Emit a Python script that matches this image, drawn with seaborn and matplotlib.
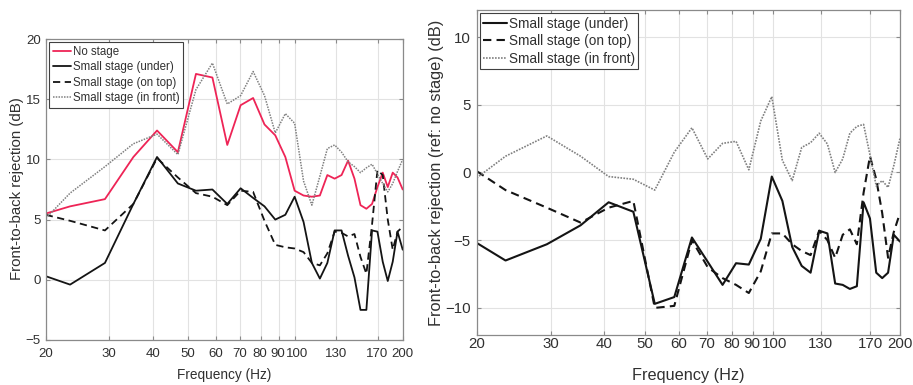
import matplotlib
matplotlib.use("Agg")
import matplotlib.pyplot as plt
import matplotlib.transforms as mtransforms
import seaborn as sns
import pandas as pd
from matplotlib.ticker import FixedLocator, FixedFormatter, NullLocator

# ---------------- data ----------------
freq = [20, 23.4, 29.3, 35.2, 41.0, 46.9, 52.7, 58.6, 64.5, 70.3, 76.2, 82.0,
        87.9, 93.8, 99.6, 105.5, 111.3, 117.2, 123.0, 128.9, 134.8, 140.6,
        146.5, 152.3, 158.2, 164.1, 169.9, 175.8, 181.6, 187.5, 193.4, 200]

left_no_stage = [5.5, 6.1, 6.7, 10.2, 12.4, 10.6, 17.1, 16.8, 11.2, 14.5, 15.1, 12.9,
                 12.0, 10.2, 7.4, 7.0, 6.9, 7.0, 8.7, 8.4, 8.7, 9.9,
                 8.4, 6.2, 5.9, 6.3, 7.7, 8.9, 7.7, 8.9, 8.5, 7.5]
left_under = [0.3, -0.4, 1.4, 6.3, 10.2, 8.0, 7.4, 7.5, 6.3, 7.6, 6.8, 6.1,
              5.0, 5.4, 6.9, 4.8, 1.4, 0.1, 1.4, 4.1, 4.1, 2.0,
              0.2, -2.5, -2.5, 4.1, 4.0, 1.5, -0.1, 1.5, 4.0, 2.5]
left_on_top = [5.4, 4.9, 4.1, 6.3, 10.1, 8.5, 7.2, 6.9, 6.2, 7.4, 7.3, 4.9,
               2.9, 2.7, 2.6, 2.3, 1.4, 1.2, 2.2, 4.0, 3.9, 3.6,
               3.8, 1.9, 0.5, 4.6, 9.1, 8.7, 5.0, 2.5, 4.0, 4.4]
left_in_front = [5.1, 7.2, 9.4, 11.3, 12.1, 10.4, 15.8, 18.0, 14.6, 15.3, 17.3, 15.3,
                 12.2, 13.8, 13.0, 8.2, 6.2, 8.6, 10.9, 11.2, 10.6, 9.8,
                 9.4, 8.9, 9.3, 9.6, 8.8, 8.0, 7.3, 8.0, 9.0, 10.0]

right_under = [-5.2, -6.5, -5.3, -3.9, -2.2, -2.9, -9.7, -9.2, -4.8, -6.6, -8.3, -6.7,
               -6.8, -4.9, -0.3, -2.1, -5.5, -6.9, -7.4, -4.3, -4.5, -8.2,
               -8.3, -8.6, -8.4, -2.2, -3.4, -7.4, -7.8, -7.4, -4.6, -5.1]
right_on_top = [0.1, -1.3, -2.6, -3.7, -2.6, -2.1, -10.0, -9.85, -5.0, -7.0, -7.8, -8.3,
                -8.9, -7.3, -4.5, -4.5, -5.3, -5.8, -6.1, -4.3, -5.0, -6.3,
                -4.6, -4.2, -5.3, -1.5, 1.2, -0.5, -3.0, -6.3, -4.4, -3.0]
right_in_front = [-0.4, 1.2, 2.7, 1.2, -0.3, -0.5, -1.3, 1.5, 3.3, 1.0, 2.15, 2.3,
                  0.2, 3.8, 5.6, 0.9, -0.6, 1.85, 2.2, 2.9, 2.1, 0.0,
                  1.0, 2.9, 3.4, 3.55, 1.3, -1.0, -0.6, -1.1, 0.5, 2.5]

x_ticks = [20, 30, 40, 50, 60, 70, 80, 90, 100, 130, 170, 200]
x_tick_labels = ["20", "30", "40", "50", "60", "70", "80", "90", "100", "130", "170", "200"]
left_yticks = [-5, 0, 5, 10, 15, 20]
right_yticks = [-10, -5, 0, 5, 10]

lab_none = "No stage"
lab_under = "Small stage (under)"
lab_top = "Small stage (on top)"
lab_front = "Small stage (in front)"

# ---------------- style ----------------
sns.set_theme(style="whitegrid")
plt.rcParams['font.family'] = ['Liberation Sans', 'DejaVu Sans']

RED = "#ee2456"
BLACK = "#141414"
GREY = "#808080"
EDGE = "#8a8a8a"
TXT = "#303030"

fig = plt.figure(figsize=(9.13, 3.85), dpi=100)
fig.patch.set_facecolor("white")
axL = fig.add_axes([0.0501, 0.1169, 0.391, 0.7818])
axR = fig.add_axes([0.5221, 0.1299, 0.4636, 0.8442])


def draw(ax, series):
    for vals, lab, col, ls, w in series:
        df = pd.DataFrame({"f": freq, "v": vals})
        sns.lineplot(data=df, x="f", y="v", ax=ax, color=col, linestyle=ls,
                     linewidth=w, label=lab, legend=False)
    ax.set_xscale("log")
    ax.set_xlim(20, 200)
    ax.xaxis.set_major_locator(FixedLocator(x_ticks))
    ax.xaxis.set_major_formatter(FixedFormatter(x_tick_labels))
    ax.xaxis.set_minor_locator(NullLocator())
    ax.grid(True, which="major", color="#e2e2e2", linewidth=0.8)
    for s in ax.spines.values():
        s.set_visible(True)
        s.set_color(EDGE)
        s.set_linewidth(0.9)
    ax.set_facecolor("white")


draw(axL, [
    (left_no_stage, lab_none, RED, "-", 1.3),
    (left_under, lab_under, BLACK, "-", 1.3),
    (left_on_top, lab_top, BLACK, (0, (4, 2.5)), 1.3),
    (left_in_front, lab_front, GREY, (0, (1, 0.8)), 1.1),
])
draw(axR, [
    (right_under, lab_under, BLACK, "-", 1.5),
    (right_on_top, lab_top, BLACK, (0, (4, 2.5)), 1.5),
    (right_in_front, lab_front, GREY, (0, (1, 0.8)), 1.2),
])

axL.set_ylim(-5, 20)
axL.yaxis.set_major_locator(FixedLocator(left_yticks))
axR.set_ylim(-12, 12)
axR.yaxis.set_major_locator(FixedLocator(right_yticks))

axL.tick_params(axis="both", which="major", direction="in", length=3, width=0.8,
                color=EDGE, labelcolor=TXT, labelsize=9.5,
                bottom=True, top=True, left=True, right=True)
axL.tick_params(axis="x", pad=6)
axL.tick_params(axis="y", pad=3.5)
axR.tick_params(axis="both", which="major", direction="in", length=3, width=0.8,
                color=EDGE, labelcolor=TXT, labelsize=10.8,
                bottom=True, top=True, left=True, right=True)
axR.tick_params(axis="x", pad=1.5)
axR.tick_params(axis="y", pad=4.5)


def nudge(ax, shifts_px):
    """Shift crowded tick labels sideways so they sit side by side (as in the reference)."""
    fig.canvas.draw()
    for tick, lab in zip(ax.xaxis.get_major_ticks(), x_tick_labels):
        if lab in shifts_px:
            off = mtransforms.ScaledTranslation(shifts_px[lab] / 100.0, 0, fig.dpi_scale_trans)
            tick.label1.set_transform(tick.label1.get_transform() + off)


nudge(axL, {"80": -1.0, "90": -1.2, "100": 1.8})
nudge(axR, {"90": -1.2, "100": 1.8})

axL.set_xlabel("Frequency (Hz)", fontsize=9.8, color=TXT)
axL.xaxis.set_label_coords(0.501, -0.116)
axL.xaxis.label.set_va("center")
axL.set_ylabel("Front-to-back rejection (dB)", fontsize=10.8, color=TXT)
axL.yaxis.set_label_coords(-0.081, 0.504)
axL.yaxis.label.set_va("center")

axR.set_xlabel("Frequency (Hz)", fontsize=11.7, color=TXT)
axR.xaxis.set_label_coords(0.501, -0.125)
axR.xaxis.label.set_va("center")
axR.set_ylabel("Front-to-back rejection (ref: no stage) (dB)", fontsize=11.8, color=TXT)
axR.yaxis.set_label_coords(-0.094, 0.5)
axR.yaxis.label.set_va("center")

legL = axL.legend(loc="upper left", fontsize=8.3, frameon=True, fancybox=False,
                  edgecolor="#404040", framealpha=1, borderaxespad=0.3,
                  handlelength=1.6, handletextpad=0.15, labelspacing=0.3,
                  borderpad=0.3)
legL.get_frame().set_linewidth(0.8)
for t in legL.get_texts():
    t.set_color(TXT)
legR = axR.legend(loc="upper left", fontsize=9.8, frameon=True, fancybox=False,
                  edgecolor="#404040", framealpha=1, borderaxespad=0.25,
                  handlelength=1.7, handletextpad=0.15, labelspacing=0.25,
                  borderpad=0.25)
legR.get_frame().set_linewidth(0.8)
for t in legR.get_texts():
    t.set_color(TXT)

fig.savefig("out.png", dpi=100, facecolor="white")
